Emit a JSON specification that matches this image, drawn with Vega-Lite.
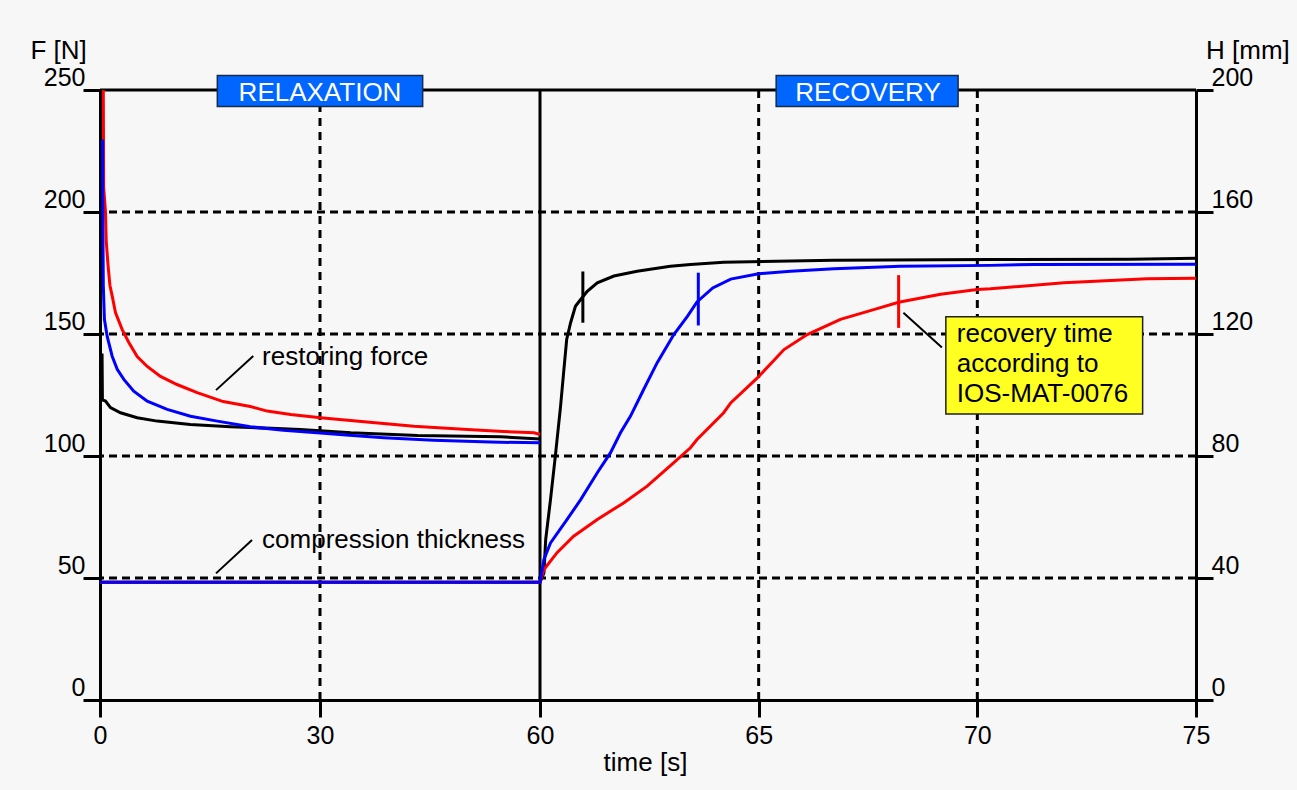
{
  "$schema": "https://vega.github.io/schema/vega-lite/v6.json",
  "width": 1096,
  "height": 610,
  "autosize": {"type": "none"},
  "padding": {"left": 100, "top": 90, "right": 101, "bottom": 90},
  "background": "#f7f7f7",
  "config": {
    "view": {"stroke": null},
    "font": "Liberation Sans",
    "axis": {
      "grid": false,
      "domainColor": "#000000",
      "domainWidth": 3,
      "tickColor": "#000000",
      "tickWidth": 3,
      "tickSize": 17,
      "labelColor": "#000000",
      "labelFontSize": 25,
      "labelFont": "Liberation Sans",
      "labelFlush": false,
      "labelOverlap": false,
      "titleFont": "Liberation Sans",
      "titleFontSize": 26,
      "titleFontWeight": "normal",
      "titleColor": "#000000"
    }
  },
  "datasets": {
    "vgrid": [{"t": 30}, {"t": 65}, {"t": 70}],
    "mid": [{"t": 60}],
    "hgrid": [{"F": 50}, {"F": 100}, {"F": 150}, {"F": 200}],
    "top": [{"F": 250}],
    "boxes": [
      {"label": "RELAXATION", "t1": 16, "t2": 44, "F1": 243.2, "F2": 255.9, "tc": 30, "Ft": 245.3},
      {"label": "RECOVERY", "t1": 65.4, "t2": 69.56, "F1": 243.2, "F2": 255.9, "tc": 67.5, "Ft": 245.3}
    ],
    "ybox": [{"t1": 69.28, "t2": 73.78, "F1": 117.2, "F2": 157.1}],
    "leaders": [
      {"id": "a", "t": 20.9, "F": 141.0},
      {"id": "a", "t": 15.82, "F": 127.0},
      {"id": "b", "t": 20.73, "F": 65.6},
      {"id": "b", "t": 15.82, "F": 51.9},
      {"id": "c", "t": 68.31, "F": 158.7},
      {"id": "c", "t": 69.19, "F": 144.5}
    ],
    "notes": [
      {"text": "restoring force", "t": 22.1, "F": 137.3},
      {"text": "compression thickness", "t": 22.1, "F": 62.3},
      {"text": "recovery time", "t": 69.53, "F": 146.8},
      {"text": "according to", "t": 69.53, "F": 134.5},
      {"text": "IOS-MAT-0076", "t": 69.53, "F": 122.3}
    ],
    "force": [
      {"s": "black", "t": 0.28, "F": 142},
      {"s": "black", "t": 0.33, "F": 123},
      {"s": "black", "t": 0.75, "F": 122.5},
      {"s": "black", "t": 1.43, "F": 119.8},
      {"s": "black", "t": 2.8, "F": 117.7},
      {"s": "black", "t": 5.07, "F": 115.7},
      {"s": "black", "t": 7.8, "F": 114.3},
      {"s": "black", "t": 12.3, "F": 112.9},
      {"s": "black", "t": 17.8, "F": 112.0},
      {"s": "black", "t": 27.3, "F": 110.9},
      {"s": "black", "t": 34.2, "F": 109.5},
      {"s": "black", "t": 43.3, "F": 108.4},
      {"s": "black", "t": 54.6, "F": 107.9},
      {"s": "black", "t": 60, "F": 107.0},
      {"s": "red", "t": 0.45, "F": 250},
      {"s": "red", "t": 0.5, "F": 210},
      {"s": "red", "t": 0.75, "F": 200},
      {"s": "red", "t": 0.85, "F": 188},
      {"s": "red", "t": 1.1, "F": 178},
      {"s": "red", "t": 1.35, "F": 170},
      {"s": "red", "t": 1.7, "F": 165},
      {"s": "red", "t": 2.11, "F": 158.8},
      {"s": "red", "t": 3.03, "F": 151.8},
      {"s": "red", "t": 3.93, "F": 146.5},
      {"s": "red", "t": 5.07, "F": 140.8},
      {"s": "red", "t": 6.44, "F": 136.7},
      {"s": "red", "t": 8.25, "F": 132.6},
      {"s": "red", "t": 10.5, "F": 129.3},
      {"s": "red", "t": 13.25, "F": 126.0},
      {"s": "red", "t": 16.8, "F": 122.3},
      {"s": "red", "t": 20.5, "F": 120.3},
      {"s": "red", "t": 22.8, "F": 118.4},
      {"s": "red", "t": 26, "F": 117.0},
      {"s": "red", "t": 30.07, "F": 115.7},
      {"s": "red", "t": 36.4, "F": 113.9},
      {"s": "red", "t": 42.8, "F": 112.2},
      {"s": "red", "t": 50.1, "F": 110.9},
      {"s": "red", "t": 55, "F": 110.0},
      {"s": "red", "t": 59.2, "F": 109.5},
      {"s": "red", "t": 60, "F": 108.8},
      {"s": "blue", "t": 0.35, "F": 229.7},
      {"s": "blue", "t": 0.38, "F": 200},
      {"s": "blue", "t": 0.45, "F": 170},
      {"s": "blue", "t": 0.6, "F": 156},
      {"s": "blue", "t": 0.98, "F": 149},
      {"s": "blue", "t": 1.66, "F": 140.9},
      {"s": "blue", "t": 2.35, "F": 135.5},
      {"s": "blue", "t": 3.25, "F": 131.4},
      {"s": "blue", "t": 4.6, "F": 126.6},
      {"s": "blue", "t": 6.44, "F": 122.5},
      {"s": "blue", "t": 9.16, "F": 119.1},
      {"s": "blue", "t": 12.34, "F": 116.3},
      {"s": "blue", "t": 16, "F": 114.3},
      {"s": "blue", "t": 20.5, "F": 112.0},
      {"s": "blue", "t": 25, "F": 110.5},
      {"s": "blue", "t": 29.6, "F": 109.5},
      {"s": "blue", "t": 34, "F": 108.5},
      {"s": "blue", "t": 38.7, "F": 107.5},
      {"s": "blue", "t": 45.5, "F": 106.5},
      {"s": "blue", "t": 53.25, "F": 105.7},
      {"s": "blue", "t": 60, "F": 105.4}
    ],
    "thick": [
      {"s": "black", "t": 0, "H": 38.6},
      {"s": "black", "t": 60, "H": 38.6},
      {"s": "black", "t": 60.09, "H": 41.7},
      {"s": "black", "t": 60.13, "H": 52.6},
      {"s": "black", "t": 60.24, "H": 65.7},
      {"s": "black", "t": 60.35, "H": 79.9},
      {"s": "black", "t": 60.47, "H": 96.3},
      {"s": "black", "t": 60.54, "H": 107.3},
      {"s": "black", "t": 60.61, "H": 118.2},
      {"s": "black", "t": 60.7, "H": 123.7},
      {"s": "black", "t": 60.81, "H": 129.1},
      {"s": "black", "t": 60.93, "H": 131.3},
      {"s": "black", "t": 61.08, "H": 134.0},
      {"s": "black", "t": 61.31, "H": 136.8},
      {"s": "black", "t": 61.69, "H": 139.0},
      {"s": "black", "t": 62.22, "H": 140.6},
      {"s": "black", "t": 62.98, "H": 142.2},
      {"s": "black", "t": 63.44, "H": 142.8},
      {"s": "black", "t": 64.2, "H": 143.5},
      {"s": "black", "t": 66.72, "H": 144.2},
      {"s": "black", "t": 70.3, "H": 144.4},
      {"s": "black", "t": 73.5, "H": 144.5},
      {"s": "black", "t": 75, "H": 144.8},
      {"s": "red", "t": 0, "H": 38.6},
      {"s": "red", "t": 60, "H": 38.6},
      {"s": "red", "t": 60.09, "H": 42.8},
      {"s": "red", "t": 60.39, "H": 48.3},
      {"s": "red", "t": 60.77, "H": 53.7},
      {"s": "red", "t": 61.31, "H": 59.2},
      {"s": "red", "t": 61.92, "H": 64.7},
      {"s": "red", "t": 62.45, "H": 70.1},
      {"s": "red", "t": 63.06, "H": 77.8},
      {"s": "red", "t": 63.44, "H": 82.7},
      {"s": "red", "t": 63.59, "H": 85.4},
      {"s": "red", "t": 64.2, "H": 94.2},
      {"s": "red", "t": 64.36, "H": 97.4},
      {"s": "red", "t": 64.97, "H": 105.6},
      {"s": "red", "t": 65.58, "H": 114.9},
      {"s": "red", "t": 66.11, "H": 119.8},
      {"s": "red", "t": 66.87, "H": 124.8},
      {"s": "red", "t": 67.63, "H": 128.0},
      {"s": "red", "t": 68.2, "H": 130.4},
      {"s": "red", "t": 69.16, "H": 133.0},
      {"s": "red", "t": 70.0, "H": 134.6},
      {"s": "red", "t": 70.3, "H": 134.8},
      {"s": "red", "t": 71.98, "H": 136.8},
      {"s": "red", "t": 73.88, "H": 138.1},
      {"s": "red", "t": 75, "H": 138.3},
      {"s": "blue", "t": 0, "H": 38.6},
      {"s": "blue", "t": 60, "H": 38.6},
      {"s": "blue", "t": 60.09, "H": 46.1},
      {"s": "blue", "t": 60.24, "H": 51.5},
      {"s": "blue", "t": 60.62, "H": 59.2},
      {"s": "blue", "t": 60.93, "H": 65.7},
      {"s": "blue", "t": 61.31, "H": 74.5},
      {"s": "blue", "t": 61.61, "H": 81.0},
      {"s": "blue", "t": 61.84, "H": 87.6},
      {"s": "blue", "t": 62.07, "H": 93.1},
      {"s": "blue", "t": 62.37, "H": 101.8},
      {"s": "blue", "t": 62.68, "H": 110.6},
      {"s": "blue", "t": 63.06, "H": 119.8},
      {"s": "blue", "t": 63.37, "H": 125.8},
      {"s": "blue", "t": 63.59, "H": 130.5},
      {"s": "blue", "t": 63.95, "H": 135.1},
      {"s": "blue", "t": 64.36, "H": 138.0},
      {"s": "blue", "t": 64.97, "H": 139.7},
      {"s": "blue", "t": 65.73, "H": 140.6},
      {"s": "blue", "t": 66.72, "H": 141.4},
      {"s": "blue", "t": 68.24, "H": 142.2},
      {"s": "blue", "t": 70.3, "H": 142.5},
      {"s": "blue", "t": 71.3, "H": 142.8},
      {"s": "blue", "t": 75, "H": 142.9}
    ],
    "marks": [
      {"s": "black", "t": 60.98, "H1": 123.7, "H2": 140.5},
      {"s": "blue", "t": 63.62, "H1": 122.8, "H2": 140.1},
      {"s": "red", "t": 68.2, "H1": 122.0, "H2": 139.3}
    ]
  },
  "layer": [
    {
      "data": {"name": "vgrid"},
      "mark": {"type": "rule", "strokeDash": [8, 6], "strokeWidth": 3, "color": "#000000"},
      "encoding": {
        "x": {
          "field": "t", "type": "quantitative",
          "scale": {"type": "linear", "domain": [0, 60, 75], "range": [0, 440, 1096], "nice": false, "zero": false},
          "axis": {
            "title": "time [s]",
            "values": [0, 30, 60, 65, 70, 75],
            "labelBaseline": "top",
            "labelPadding": 6,
            "titleX": 545,
            "titleY": 70,
            "titleAlign": "center",
            "titleBaseline": "alphabetic"
          }
        }
      }
    },
    {
      "data": {"name": "mid"},
      "mark": {"type": "rule", "strokeWidth": 3, "color": "#000000"},
      "encoding": {
        "x": {"field": "t", "type": "quantitative",
          "scale": {"type": "linear", "domain": [0, 60, 75], "range": [0, 440, 1096], "nice": false, "zero": false}}
      }
    },
    {
      "layer": [
        {
          "data": {"name": "hgrid"},
          "mark": {"type": "rule", "strokeDash": [8, 5], "strokeWidth": 3, "color": "#000000"},
          "encoding": {
            "y": {
              "field": "F", "type": "quantitative",
              "scale": {"domain": [0, 250], "nice": false, "zero": false},
              "axis": {
                "title": "F [N]",
                "orient": "left",
                "values": [0, 50, 100, 150, 200, 250],
                "labelAlign": "right",
                "labelBaseline": "alphabetic",
                "labelOffset": -5,
                "labelPadding": -2,
                "titleAngle": 0,
                "titleX": -70,
                "titleY": -32,
                "titleAlign": "left",
                "titleBaseline": "alphabetic"
              }
            }
          }
        },
        {
          "data": {"name": "top"},
          "mark": {"type": "rule", "strokeWidth": 3, "color": "#000000"},
          "encoding": {"y": {"field": "F", "type": "quantitative", "scale": {"domain": [0, 250], "nice": false, "zero": false}}}
        },
        {
          "data": {"name": "boxes"},
          "mark": {"type": "rect", "fill": "#0066ff", "stroke": "#1a2a4a", "strokeWidth": 1.5},
          "encoding": {
            "x": {"field": "t1", "type": "quantitative"},
            "x2": {"field": "t2"},
            "y": {"field": "F1", "type": "quantitative"},
            "y2": {"field": "F2"}
          }
        },
        {
          "data": {"name": "boxes"},
          "mark": {"type": "text", "color": "#ffffff", "fontSize": 26, "align": "center", "baseline": "alphabetic"},
          "encoding": {
            "x": {"field": "tc", "type": "quantitative"},
            "y": {"field": "Ft", "type": "quantitative"},
            "text": {"field": "label"}
          }
        },
        {
          "data": {"name": "ybox"},
          "mark": {"type": "rect", "fill": "#ffff22", "stroke": "#222222", "strokeWidth": 1.5},
          "encoding": {
            "x": {"field": "t1", "type": "quantitative"},
            "x2": {"field": "t2"},
            "y": {"field": "F1", "type": "quantitative"},
            "y2": {"field": "F2"}
          }
        },
        {
          "data": {"name": "leaders"},
          "mark": {"type": "line", "color": "#000000", "strokeWidth": 2},
          "encoding": {
            "x": {"field": "t", "type": "quantitative"},
            "y": {"field": "F", "type": "quantitative"},
            "detail": {"field": "id"}
          }
        },
        {
          "data": {"name": "notes"},
          "mark": {"type": "text", "color": "#000000", "fontSize": 26, "align": "left", "baseline": "alphabetic"},
          "encoding": {
            "x": {"field": "t", "type": "quantitative"},
            "y": {"field": "F", "type": "quantitative"},
            "text": {"field": "text"}
          }
        },
        {
          "data": {"name": "force"},
          "mark": {"type": "line", "strokeWidth": 3},
          "encoding": {
            "x": {"field": "t", "type": "quantitative"},
            "y": {"field": "F", "type": "quantitative"},
            "color": {"field": "s", "type": "nominal",
              "scale": {"domain": ["black", "red", "blue"], "range": ["#000000", "#ff0000", "#0000ff"]},
              "legend": null}
          }
        }
      ]
    },
    {
      "layer": [
        {
          "data": {"name": "thick"},
          "mark": {"type": "line", "strokeWidth": 3},
          "encoding": {
            "x": {"field": "t", "type": "quantitative"},
            "y": {
              "field": "H", "type": "quantitative",
              "scale": {"domain": [0, 200], "nice": false, "zero": false},
              "axis": {
                "title": "H [mm]",
                "orient": "right",
                "values": [0, 40, 80, 120, 160, 200],
                "labelAlign": "left",
                "labelBaseline": "alphabetic",
                "labelOffset": -5,
                "labelPadding": -2,
                "titleAngle": 0,
                "titleX": 9.5,
                "titleY": -32,
                "titleAlign": "left",
                "titleBaseline": "alphabetic"
              }
            },
            "color": {"field": "s", "type": "nominal",
              "scale": {"domain": ["black", "red", "blue"], "range": ["#000000", "#ff0000", "#0000ff"]},
              "legend": null}
          }
        },
        {
          "data": {"name": "marks"},
          "mark": {"type": "rule", "strokeWidth": 3},
          "encoding": {
            "x": {"field": "t", "type": "quantitative"},
            "y": {"field": "H1", "type": "quantitative"},
            "y2": {"field": "H2"},
            "color": {"field": "s", "type": "nominal",
              "scale": {"domain": ["black", "red", "blue"], "range": ["#000000", "#ff0000", "#0000ff"]},
              "legend": null}
          }
        }
      ]
    }
  ],
  "resolve": {"scale": {"y": "independent"}, "axis": {"y": "independent"}}
}
